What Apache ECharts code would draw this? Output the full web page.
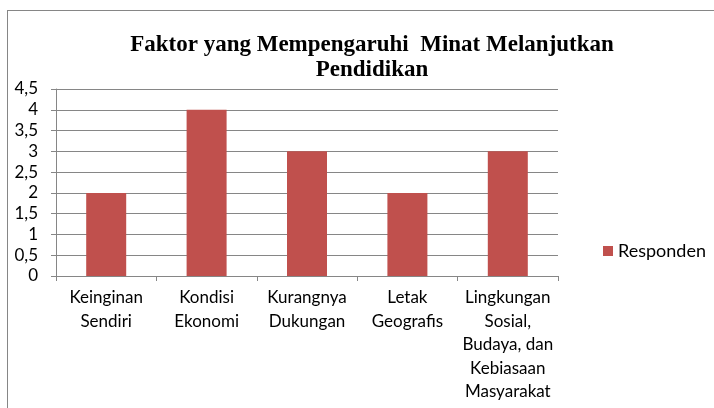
<!DOCTYPE html>
<html>
<head>
<meta charset="utf-8">
<script src="https://cdn.jsdelivr.net/npm/echarts@6/dist/echarts.min.js"></script>
<style>
  html, body { margin: 0; padding: 0; background: #fff; }
  #frame { position: absolute; left: 7px; top: 10px; width: 720px; height: 410px; border: 1px solid #868686; box-sizing: border-box; }
  #chart { position: absolute; left: 0; top: 0; width: 714px; height: 408px; }
</style>
</head>
<body>
<div id="frame"></div>
<div id="chart"></div>
<script>
const categories = ['Keinginan\nSendiri', 'Kondisi\nEkonomi', 'Kurangnya\nDukungan', 'Letak\nGeografis', 'Lingkungan\nSosial,\nBudaya, dan\nKebiasaan\nMasyarakat']
const responden = [2, 4, 3, 2, 3]
const titleLines = 'Faktor yang Mempengaruhi  Minat Melanjutkan\nPendidikan'

const font = 'Lato, "Noto Sans", sans-serif'
const chart = echarts.init(document.getElementById('chart'))
chart.setOption({
  animation: false,
  title: {
    text: titleLines,
    left: 367, top: 28, textAlign: 'center',
    textStyle: { fontFamily: '"Liberation Serif", serif', fontWeight: 'bold', fontSize: 23, lineHeight: 25, color: '#000' }
  },
  legend: {
    data: ['Responden'],
    left: 598, top: 237,
    icon: 'rect', itemWidth: 10, itemHeight: 10, itemGap: 6,
    textStyle: { fontFamily: font, fontSize: 18, color: '#000' }
  },
  grid: { left: 56, right: 156, top: 89, bottom: 132 },
  xAxis: {
    type: 'category', data: categories,
    axisLine: { lineStyle: { color: '#868686' } },
    axisTick: { show: true, length: 5, lineStyle: { color: '#868686' } },
    axisLabel: { fontFamily: font, fontSize: 17, lineHeight: 23.5, color: '#000', margin: 10, interval: 0 }
  },
  yAxis: {
    type: 'value', min: 0, max: 4.5, interval: 0.5,
    axisLine: { show: true, lineStyle: { color: '#868686' } },
    axisTick: { show: true, length: 5, lineStyle: { color: '#868686' } },
    splitLine: { lineStyle: { color: '#868686' } },
    axisLabel: { fontFamily: font, fontSize: 17, color: '#000', margin: 18, formatter: v => String(v).replace('.', ',') }
  },
  series: [{
    name: 'Responden', type: 'bar', data: responden, barWidth: 40,
    itemStyle: { color: '#C0504D' }
  }]
})
</script>
</body>
</html>
